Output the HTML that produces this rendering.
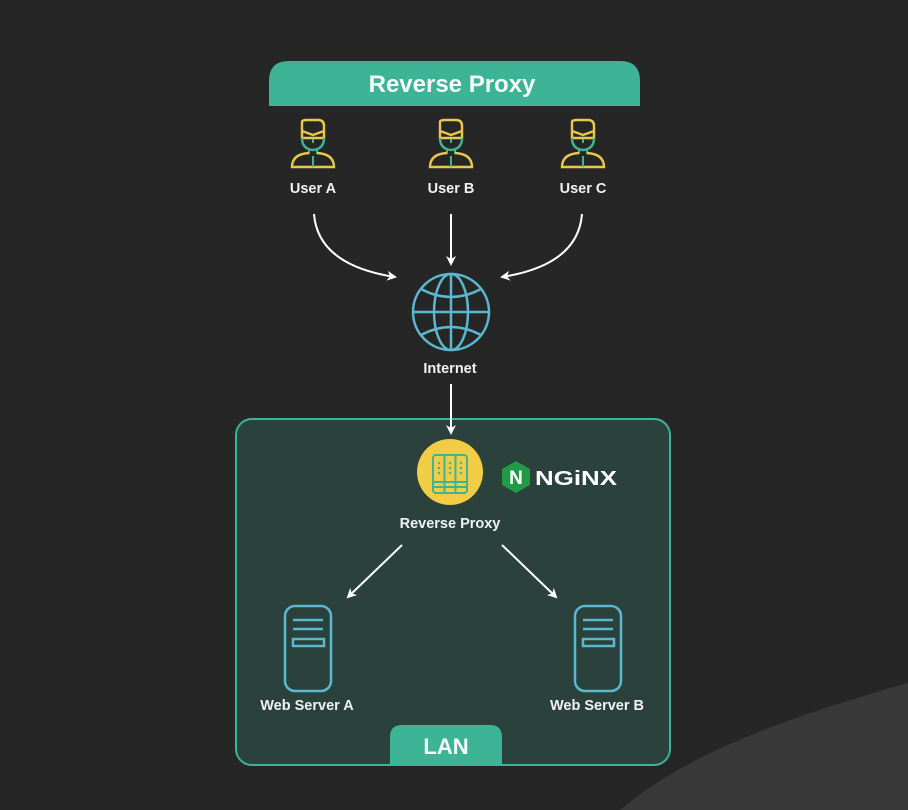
<!DOCTYPE html>
<html><head><meta charset="utf-8"><style>
html,body{margin:0;padding:0;background:#262626;}
svg{display:block;}
text{font-family:"Liberation Sans","DejaVu Sans",sans-serif;fill:#f2f2f2;}
</style></head><body>
<svg width="908" height="810" viewBox="0 0 908 810" xmlns="http://www.w3.org/2000/svg">
<defs>
<marker id="ah" markerWidth="10" markerHeight="10" refX="8" refY="5" orient="auto" markerUnits="userSpaceOnUse">
<path d="M0,0 L10,5 L0,10 L3,5 Z" fill="#fff"/>
</marker>
<g id="user">
<path d="M-11,-22 L-11,-6 L11,-6 L11,-18 Q11,-24 5,-24 L-6,-24 Q-11,-24 -11,-22 Z" fill="none" stroke="#e9c94a" stroke-width="2.4"/>
<path d="M-11,-6 Q-11,5 0,6 Q11,5 11,-6" fill="none" stroke="#3db495" stroke-width="2.4"/>
<path d="M-11,-13 L0,-9 L11,-13" fill="none" stroke="#e9c94a" stroke-width="2.4"/>
<line x1="0" y1="-5" x2="0" y2="-1" stroke="#3db495" stroke-width="2"/>
<path d="M-4,6 L-4,10 M4,6 L4,10" stroke="#3db495" stroke-width="2"/>
<path d="M-4,9 Q-21,10 -21,23 L21,23 Q21,10 4,9" fill="none" stroke="#e9c94a" stroke-width="2.4"/>
<line x1="0" y1="12" x2="0" y2="23" stroke="#3db495" stroke-width="2"/>
</g>
<g id="srv">
<rect x="0" y="0" width="46" height="85" rx="10" fill="none" stroke="#5ab8cf" stroke-width="2.5"/>
<line x1="8" y1="14" x2="38" y2="14" stroke="#5ab8cf" stroke-width="2.5"/>
<line x1="8" y1="23" x2="38" y2="23" stroke="#5ab8cf" stroke-width="2.5"/>
<rect x="8" y="33" width="31" height="7" fill="none" stroke="#5ab8cf" stroke-width="2.5"/>
</g>
</defs>

<path d="M620,810 C680,760 760,725 908,683 L908,810 Z" fill="#393939"/>

<!-- LAN box -->
<rect x="236" y="419" width="434" height="346" rx="16" fill="#2a413c" stroke="#3db495" stroke-width="2"/>

<!-- header -->
<path d="M269,106 L269,81 Q269,61 289,61 L620,61 Q640,61 640,81 L640,106 Z" fill="#3db495"/>
<text x="452" y="92" font-size="24" font-weight="bold" text-anchor="middle" style="fill:#f4fbf8">Reverse Proxy</text>

<use href="#user" x="313" y="144"/>
<use href="#user" x="451" y="144"/>
<use href="#user" x="583" y="144"/>
<text x="313" y="193" font-size="14.5" font-weight="bold" text-anchor="middle">User A</text>
<text x="451" y="193" font-size="14.5" font-weight="bold" text-anchor="middle">User B</text>
<text x="583" y="193" font-size="14.5" font-weight="bold" text-anchor="middle">User C</text>

<!-- arrows to internet -->
<path d="M314,214 Q318,265 395,277" fill="none" stroke="#fff" stroke-width="2" marker-end="url(#ah)"/>
<line x1="451" y1="214" x2="451" y2="264" stroke="#fff" stroke-width="2" marker-end="url(#ah)"/>
<path d="M582,214 Q578,265 502,277" fill="none" stroke="#fff" stroke-width="2" marker-end="url(#ah)"/>

<!-- globe -->
<g fill="none" stroke="#5ab8cf" stroke-width="2.5">
<circle cx="451" cy="312" r="38"/>
<ellipse cx="451" cy="312" rx="17" ry="38"/>
<line x1="451" y1="274" x2="451" y2="350"/>
<line x1="413" y1="312" x2="489" y2="312"/>
<path d="M421,289 Q451,305 481,289"/>
<path d="M421,335 Q451,319 481,335"/>
</g>
<text x="450" y="373" font-size="14.5" font-weight="bold" text-anchor="middle">Internet</text>
<line x1="451" y1="384" x2="451" y2="433" stroke="#fff" stroke-width="2" marker-end="url(#ah)"/>

<circle cx="450" cy="472" r="33" fill="#f2cc45"/>
<g fill="none" stroke="#3db495" stroke-width="2">
<rect x="433" y="455" width="34" height="38" rx="3"/>
<line x1="444.5" y1="455" x2="444.5" y2="493"/>
<line x1="455.5" y1="455" x2="455.5" y2="493"/>
<line x1="433" y1="482" x2="467" y2="482"/>
<line x1="433" y1="487" x2="467" y2="487"/>
</g>
<g fill="#3db495">
<circle cx="439" cy="463" r="1.2"/><circle cx="439" cy="468" r="1.2"/><circle cx="439" cy="473" r="1.2"/>
<circle cx="450" cy="463" r="1.2"/><circle cx="450" cy="468" r="1.2"/><circle cx="450" cy="473" r="1.2"/>
<circle cx="461" cy="463" r="1.2"/><circle cx="461" cy="468" r="1.2"/><circle cx="461" cy="473" r="1.2"/>
</g>
<text x="450" y="528" font-size="14.5" font-weight="bold" text-anchor="middle">Reverse Proxy</text>

<!-- nginx -->
<polygon points="516,461 530,469 530,485 516,493 502,485 502,469" fill="#1f9a46"/>
<text x="516" y="484" font-size="19" font-weight="bold" text-anchor="middle" style="fill:#fff">N</text>
<text x="535" y="485" font-size="20" font-weight="bold" textLength="82" lengthAdjust="spacingAndGlyphs" style="fill:#fff">NGiNX</text>

<!-- arrows to servers -->
<line x1="402" y1="545" x2="348" y2="597" stroke="#fff" stroke-width="2" marker-end="url(#ah)"/>
<line x1="502" y1="545" x2="556" y2="597" stroke="#fff" stroke-width="2" marker-end="url(#ah)"/>

<use href="#srv" x="285" y="606"/>
<use href="#srv" x="575" y="606"/>
<text x="307" y="710" font-size="14.5" font-weight="bold" text-anchor="middle">Web Server A</text>
<text x="597" y="710" font-size="14.5" font-weight="bold" text-anchor="middle">Web Server B</text>

<path d="M390,765 L390,737 Q390,725 402,725 L490,725 Q502,725 502,737 L502,765 Z" fill="#3db495"/>
<text x="446" y="754" font-size="22" font-weight="bold" text-anchor="middle" style="fill:#f4fbf8">LAN</text>
</svg>
</body></html>
